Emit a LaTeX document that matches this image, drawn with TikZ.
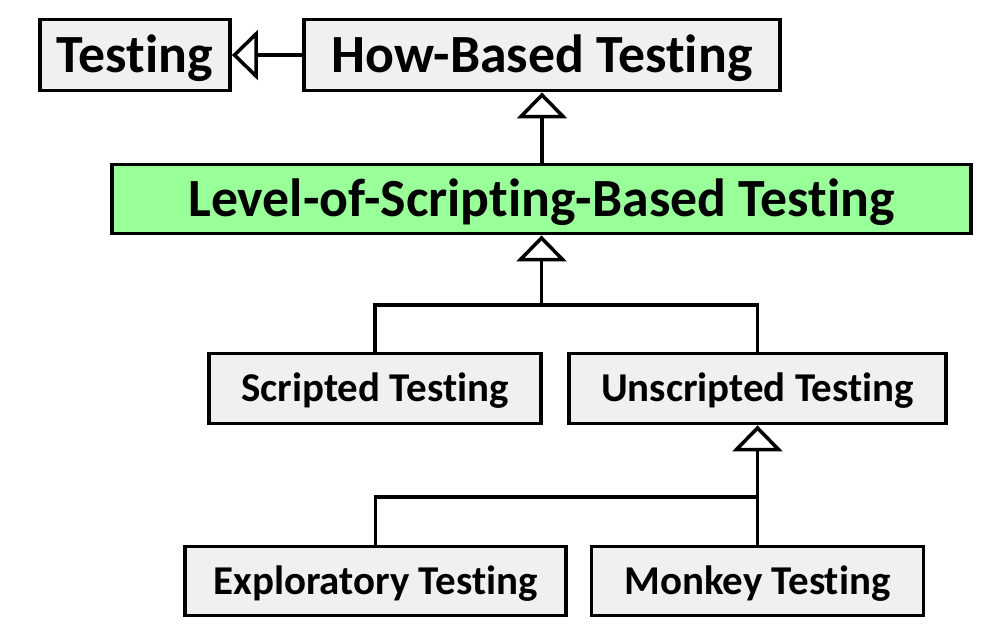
\documentclass[tikz,border=0pt]{standalone}
\usepackage{fontspec}
\setmainfont[Ligatures=NoCommon]{Carlito}
\usepackage{xcolor}
\usepackage{tikz}
\usetikzlibrary{arrows.meta,positioning,calc}
\definecolor{boxgray}{RGB}{240,240,240}
\definecolor{focus}{RGB}{153,255,153}

\begin{document}
\begin{tikzpicture}[
  cls/.style={draw, line width=2.2pt, fill=boxgray, inner sep=0pt, text height=0.53cm, text depth=0pt, font=\bfseries\fontsize{23.3}{27}\selectfont},
  topcls/.style={cls, text height=0.69cm, font=\bfseries\fontsize{30.6}{36}\selectfont},
  isa/.style={line width=2pt, -{Triangle[open, fill=white, length=0.52cm, width=1.0cm, line width=2pt]}},
  link/.style={line width=2pt}]
\useasboundingbox (0,0) rectangle (20,-12.64);
% ---- top row
\node[topcls, minimum width=3.8cm, minimum height=1.42cm] (tst) at (2.70,-1.10) {Testing};
\node[topcls, minimum width=9.52cm, minimum height=1.42cm] (how) at (10.84,-1.10) {How-Based Testing};
\node[topcls, fill=focus, minimum width=17.18cm, minimum height=1.38cm] (lvl) at (10.83,-3.98) {Level-of-Scripting-Based Testing};
% ---- scripting levels
\node[cls, minimum width=6.64cm, minimum height=1.40cm] (scr) at (7.50,-7.77) {Scripted Testing};
\node[cls, minimum width=7.54cm, minimum height=1.40cm] (uns) at (15.15,-7.77) {Unscripted Testing};
\node[cls, minimum width=7.62cm, minimum height=1.38cm] (exp) at (7.51,-11.62) {Exploratory Testing};
\node[cls, minimum width=6.64cm, minimum height=1.38cm] (mon) at (15.15,-11.62) {Monkey Testing};
\coordinate (j1) at (lvl.south |- 0,-6.10);
\coordinate (j2) at (uns.south |- 0,-9.94);
% ---- generalisation arrows
\draw[isa] (how.west) -- (tst.east);
\draw[isa] (lvl.north -| how.south) -- (how.south);
\draw[link] (scr.north) |- (j1) -| (uns.north);
\draw[isa] (j1) -- (lvl.south);
\draw[link] (exp.north) |- (j2);
\draw[isa] (mon.north) -- (uns.south);
\end{tikzpicture}
\end{document}
